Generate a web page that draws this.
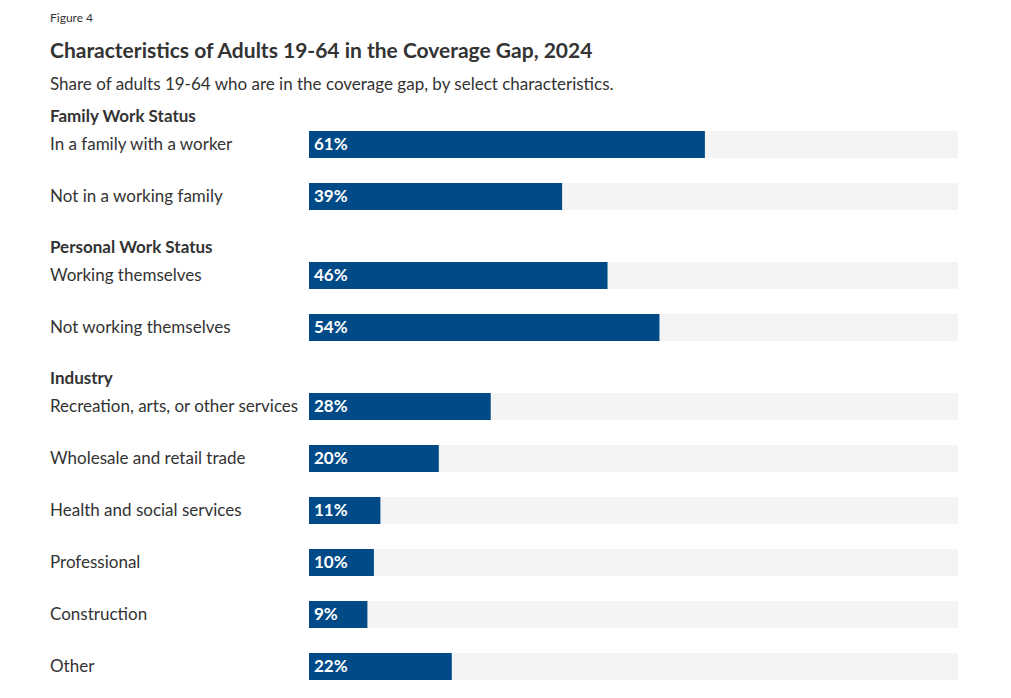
<!DOCTYPE html>
<html>
<head>
<meta charset="utf-8">
<script src="https://cdn.jsdelivr.net/npm/d3@7"></script>
<style>
  body { margin: 0; background: #fff; }
  text { font-family: Lato, "Open Sans", sans-serif; fill: #333; }
</style>
</head>
<body>
<div id="chart"></div>
<script>
// Data
const groups = ["Family Work Status", "Personal Work Status", "Industry"];
const categories = [
  ["In a family with a worker", "Not in a working family"],
  ["Working themselves", "Not working themselves"],
  [
    "Recreation, arts, or other services",
    "Wholesale and retail trade",
    "Health and social services",
    "Professional",
    "Construction",
    "Other",
  ],
];
const values = [
  [61, 39],
  [46, 54],
  [28, 20, 11, 10, 9, 22],
];

const dimensions = {
  width: 1011,
  height: 698,
  labelX: 50,
  barLeft: 309,
  barRight: 958,
  barHeight: 27,
  rowStep: 52,
  groupStep: 79,
  firstBar: 131,
};

const svg = d3
  .select("#chart")
  .append("svg")
  .attr("width", dimensions.width)
  .attr("height", dimensions.height);

svg
  .append("text")
  .attr("x", dimensions.labelX)
  .attr("y", 22)
  .style("font-size", "12px")
  .text("Figure 4");

svg
  .append("text")
  .attr("x", dimensions.labelX)
  .attr("y", 58)
  .style("font-size", "21px")
  .style("font-weight", "bold")
  .text("Characteristics of Adults 19-64 in the Coverage Gap, 2024");

svg
  .append("text")
  .attr("x", dimensions.labelX)
  .attr("y", 90)
  .style("font-size", "17px")
  .text("Share of adults 19-64 who are in the coverage gap, by select characteristics.");

const xScale = d3
  .scaleLinear()
  .domain([0, 100])
  .range([dimensions.barLeft, dimensions.barRight]);

// build rows: headers and bars in order
const rows = [];
let barTop = dimensions.firstBar;
groups.forEach((g, gi) => {
  rows.push({ type: "header", label: g, y: barTop - 15 });
  categories[gi].forEach((c, ci) => {
    rows.push({ type: "bar", label: c, value: values[gi][ci], y: barTop });
    barTop += dimensions.rowStep;
  });
  barTop += dimensions.groupStep - dimensions.rowStep;
});

const headers = rows.filter((r) => r.type === "header");
const bars = rows.filter((r) => r.type === "bar");

svg
  .selectAll(".header")
  .data(headers)
  .join("text")
  .attr("class", "header")
  .attr("x", dimensions.labelX)
  .attr("y", (d) => d.y)
  .attr("dy", "0.35em")
  .style("font-size", "17px")
  .style("font-weight", "bold")
  .text((d) => d.label);

const row = svg
  .selectAll(".row")
  .data(bars)
  .join("g")
  .attr("class", "row")
  .attr("transform", (d) => `translate(0, ${d.y})`);

row
  .append("text")
  .attr("x", dimensions.labelX)
  .attr("y", dimensions.barHeight / 2)
  .attr("dy", "0.35em")
  .style("font-size", "17px")
  .text((d) => d.label);

row
  .append("rect")
  .attr("x", xScale(0))
  .attr("width", xScale(100) - xScale(0))
  .attr("height", dimensions.barHeight)
  .attr("fill", "#f4f4f4");

row
  .append("rect")
  .attr("x", xScale(0))
  .attr("width", (d) => xScale(d.value) - xScale(0))
  .attr("height", dimensions.barHeight)
  .attr("fill", "#004a87");

row
  .append("text")
  .attr("x", xScale(0) + 5)
  .attr("y", dimensions.barHeight / 2)
  .attr("dy", "0.35em")
  .style("font-size", "17px")
  .style("font-weight", "bold")
  .style("fill", "#fff")
  .text((d) => `${d.value}%`);
</script>
</body>
</html>
